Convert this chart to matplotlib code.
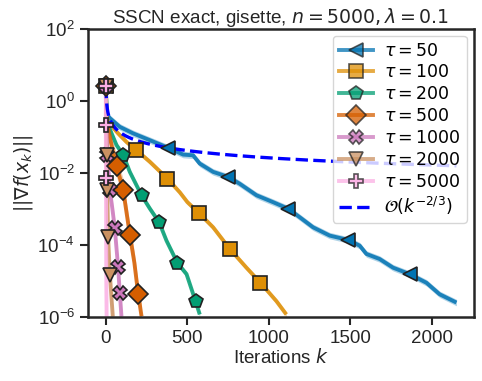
import numpy as np
import matplotlib
matplotlib.use("Agg")
import matplotlib.pyplot as plt
from matplotlib.lines import Line2D

plt.rcParams['font.family'] = ['Liberation Sans', 'DejaVu Sans']
plt.rcParams['mathtext.fontset'] = 'dejavusans'

# ---------------- data (log10 of ||grad f(x_k)||) ----------------
labels = [r'$\tau = 50$', r'$\tau = 100$', r'$\tau = 200$', r'$\tau = 500$',
          r'$\tau = 1000$', r'$\tau = 2000$', r'$\tau = 5000$']

k_50 = [0, 5, 25, 86, 167, 270, 382, 474, 535, 576, 658, 750, 821, 924, 1025, 1117,
        1189, 1271, 1373, 1485, 1557, 1598, 1679, 1761, 1863, 1966, 2047, 2150]
g_50 = [0.40, -0.38, -0.49, -0.73, -0.91, -1.10, -1.31, -1.50, -1.52, -1.75, -1.98, -2.12,
        -2.31, -2.63, -2.82, -3.00, -3.24, -3.52, -3.75, -3.87, -4.03, -4.26, -4.40, -4.64,
        -4.82, -5.06, -5.38, -5.61]
m_50 = [0, 6, 11, 15, 19, 24]

k_100 = [0, 5, 14, 75, 127, 188, 270, 378, 454, 500, 570, 658, 760, 862, 948, 1046, 1107]
g_100 = [0.40, -0.42, -0.59, -0.91, -1.15, -1.38, -1.70, -2.17, -2.55, -2.82, -3.12, -3.52,
         -4.12, -4.64, -5.06, -5.57, -5.94]
m_100 = [0, 5, 7, 10, 12, 14]

k_200 = [0, 5, 14, 66, 106, 147, 219, 270, 327, 372, 439, 495, 550, 576]
g_200 = [0.40, -0.45, -0.68, -1.24, -1.50, -1.98, -2.63, -3.00, -3.38, -3.89, -4.51, -4.82,
         -5.57, -5.94]
m_200 = [0, 4, 6, 8, 10, 12]

k_500 = [0, 4, 14, 40, 66, 106, 147, 175, 198, 219]
g_500 = [0.40, -0.50, -0.77, -1.35, -1.82, -2.47, -3.72, -4.50, -5.36, -5.99]
m_500 = [0, 4, 5, 6, 8]

k_1000 = [0, 3, 10, 25, 40, 55, 75, 86, 96]
g_1000 = [0.40, -0.60, -1.52, -2.49, -3.00, -3.54, -4.61, -5.35, -6.00]
m_1000 = [0, 2, 3, 5, 6, 7]

k_2000 = [0, 2, 5, 9, 14, 25, 35, 43]
g_2000 = [0.40, -0.60, -1.52, -2.49, -3.78, -4.84, -5.50, -6.00]
m_2000 = [0, 2, 3, 4, 5]

k_5000 = [0, 0, 1, 2, 3, 5]
g_5000 = [0.40, -0.69, -2.16, -3.50, -5.00, -6.00]
m_5000 = [0, 1, 2]

rate_C = 2.57
rate_p = -2.0 / 3.0
rate_kmax = 2150

series_k = [k_50, k_100, k_200, k_500, k_1000, k_2000, k_5000]
series_g = [g_50, g_100, g_200, g_500, g_1000, g_2000, g_5000]
series_m = [m_50, m_100, m_200, m_500, m_1000, m_2000, m_5000]

# ---------------- style ----------------
colors = ['#0173b2', '#de8f05', '#029e73', '#d55e00', '#cc78bc', '#ca9161', '#fbafe4']
markers = ['<', 's', 'p', 'D', 'X', 'v', 'P']
band = [0.09, 0.07, 0.08, 0.30, 0.25, 0.25, 0.15]

fig = plt.figure(figsize=(4.82, 3.81), dpi=100)
ax = fig.add_axes([0.183, 0.169, 0.7995, 0.756])

handles = []
for k, g, m, c, mk, b, lab in zip(series_k, series_g, series_m, colors, markers, band, labels):
    k = np.asarray(k, float)
    y = 10.0 ** np.asarray(g)
    ax.fill_between(k, y * 10 ** (-b), y * 10 ** b, color=c, alpha=0.3, lw=0)
    ax.plot(k, y, color=c, lw=2.8, alpha=0.85, solid_capstyle='butt')
    ax.plot(k[m], y[m], ls='none', marker=mk, ms=10, mfc=c, mec='#222222', mew=1.2, zorder=4)
    handles.append(Line2D([], [], color=c, lw=2.8, alpha=1.0, marker=mk, ms=10,
                          mfc=c, mec='#222222', mew=1.2, label=lab))

kk = np.arange(1, rate_kmax + 1)
ax.plot(kk, rate_C * kk ** rate_p, color='#0000ff', ls='--', lw=2.4, zorder=3)
handles.append(Line2D([], [], color='#0000ff', ls='--', lw=2.4, label=r'$\mathcal{O}(k^{-2/3})$'))

ax.set_yscale('log')
ax.set_ylim(1e-6, 1e2)
ax.set_xlim(-108, 2255)
ax.set_yticks([1e-6, 1e-4, 1e-2, 1e0, 1e2])
ax.yaxis.set_minor_locator(matplotlib.ticker.NullLocator())
ax.set_xticks([0, 500, 1000, 1500, 2000])

for s in ax.spines.values():
    s.set_linewidth(1.8)
    s.set_color('#262626')
ax.tick_params(axis='both', which='major', length=6, width=1.5, labelsize=13.5,
               color='#262626', labelcolor='#262626')

ax.set_title(r'SSCN exact, gisette, $n = 5000, \lambda = 0.1$', fontsize=13.6, color='#262626', pad=4)
ax.set_xlabel(r'Iterations $k$', fontsize=13.5, color='#262626', labelpad=1)
ax.set_ylabel(r'$||\nabla f(x_k)||$', fontsize=13.5, color='#262626', labelpad=2)

leg = ax.legend(handles=handles, loc='upper right', fontsize=12.5, framealpha=0.8,
                handlelength=2.0, borderpad=0.35, labelspacing=0.28, handletextpad=0.6,
                borderaxespad=0.4)
for lh in leg.get_lines()[:-1]:
    lh.set_alpha(0.75)

fig.savefig('out.png', dpi=100)
